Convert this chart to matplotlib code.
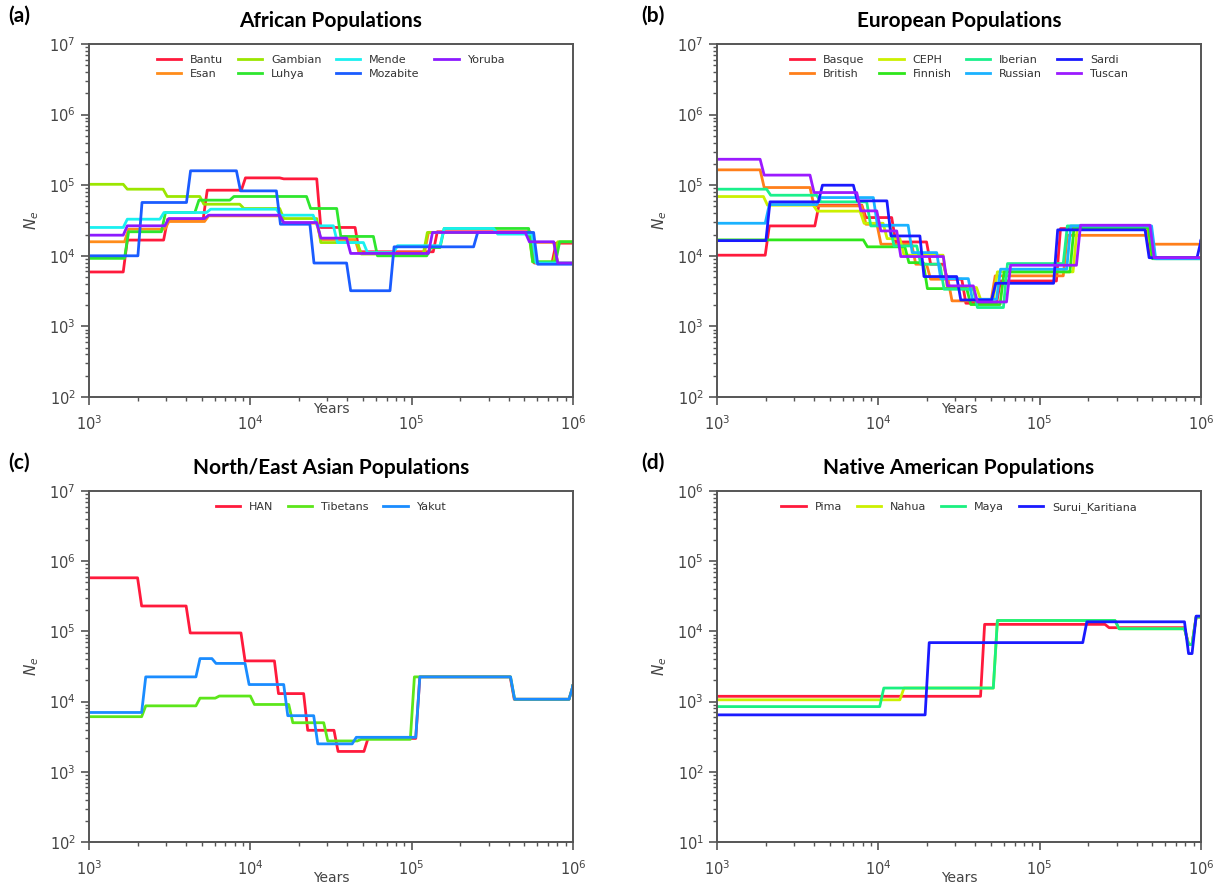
import matplotlib
matplotlib.use("Agg")
import matplotlib.pyplot as plt

# step change points (years) and Ne levels per population
# (a) African
bantu_t = [1630, 2900, 5100, 8800, 15200, 25800, 44600, 136000, 543000, 741000]
bantu_ne = [5900, 16700, 33000, 85000, 127000, 123000, 25200, 11400, 21900, 7900, 15100]
esan_t = [1660, 2950, 5200, 15200, 25800, 44600, 120000, 540000, 760000]
esan_ne = [15800, 23800, 30600, 36800, 29000, 17000, 11000, 21500, 15500, 7900]
gambian_t = [1630, 2880, 4860, 8600, 15200, 25800, 46000, 118000, 531000, 759000]
gambian_ne = [103000, 87800, 69200, 53800, 46800, 33700, 15400, 10600, 21400, 8200, 15800]
mende_t = [1630, 2750, 5350, 14500, 24500, 32700, 50200, 77100, 150000, 322000, 557000]
mende_ne = [25200, 33000, 41000, 45700, 37600, 26600, 15400, 11100, 13900, 24400, 20300, 7900]
luhya_t = [1660, 2810, 4530, 7460, 22300, 34300, 57900, 124000, 150000, 531000, 780000]
luhya_ne = [9200, 21900, 41000, 61400, 69200, 46800, 18800, 10000, 13100, 24400, 8200, 15800]
mozabite_t = [2010, 4020, 8200, 14500, 23400, 39500, 73400, 242000, 570000]
mozabite_ne = [10000, 56900, 160000, 83100, 28000, 7900, 3200, 13400, 21400, 7600]
yoruba_t = [1630, 2950, 5200, 15200, 25800, 39500, 127000, 506000, 759000]
yoruba_ne = [19600, 26600, 33700, 37600, 29600, 17800, 10800, 21400, 15800, 7900]

# (b) European
basque_t = [1990, 4040, 7900, 12100, 19900, 25300, 32900, 54000, 127000, 460000]
basque_ne = [10200, 26500, 52100, 34800, 15700, 7600, 4660, 2130, 4400, 24300, 9400]
british_t = [1850, 3770, 7900, 9800, 16100, 19900, 27000, 50000, 140000, 460000]
british_ne = [165000, 92700, 50900, 28000, 14600, 7600, 4660, 2300, 5200, 19500, 14600]
ceph_t = [1940, 3950, 7700, 10700, 13600, 25200, 40600, 51600, 161000, 470000]
ceph_ne = [69100, 52100, 42900, 28900, 17500, 10200, 3550, 2420, 5920, 24300, 9400]
finnish_t = [8070, 14600, 19000, 35300, 56800, 154000, 472000]
finnish_ne = [16800, 13400, 8000, 3430, 2040, 5920, 25100, 9100]
iberian_t = [2030, 4150, 8470, 11800, 17300, 24100, 38800, 59600, 140000, 483000]
iberian_ne = [87800, 72100, 58100, 26500, 13800, 7600, 3360, 1850, 7760, 26500, 9100]
russian_t = [1990, 4150, 9310, 15300, 23000, 36100, 54000, 147000, 494000]
russian_ne = [28900, 53200, 66800, 27100, 11100, 4750, 2420, 6460, 26500, 9100]
sardi_t = [2010, 4250, 7000, 11300, 18100, 30600, 50400, 122000, 450000, 945000]
sardi_ne = [16400, 58100, 100000, 60000, 19100, 5080, 2370, 4080, 23300, 9400, 16600]
tuscan_t = [1850, 3770, 7350, 9780, 13000, 25300, 38800, 62300, 169000, 483000]
tuscan_ne = [233000, 139000, 78700, 43300, 22500, 9760, 3750, 2220, 7350, 27100, 9400]

# (c) North/East Asian
han_t = [2000, 4000, 8750, 14100, 21400, 33000, 50600, 106000, 408000, 945000]
han_ne = [580000, 230000, 95000, 38000, 13000, 3900, 1950, 2990, 22500, 10800, 17000]
tibetans_t = [2120, 4600, 6060, 10000, 17300, 28500, 46000, 98100, 410000, 945000]
tibetans_ne = [6100, 8700, 11200, 12000, 9100, 5000, 2750, 2900, 22500, 10800, 17000]
yakut_t = [2120, 4600, 5780, 9270, 16100, 24700, 42800, 106000, 410000, 945000]
yakut_ne = [7000, 22500, 41000, 35000, 17500, 6300, 2500, 3100, 22500, 10800, 17000]

# (d) Native American
pima_t = [43000, 254000, 790000, 880000]
pima_ne = [1190, 12600, 11300, 6550, 16000]
nahua_t = [13600, 51600, 293000, 790000, 880000]
nahua_ne = [1060, 1560, 14300, 10900, 6500, 16000]
maya_t = [10200, 51600, 293000, 790000, 880000]
maya_ne = [849, 1560, 14300, 10900, 6500, 16000]
surui_t = [19500, 185000, 790000, 880000]
surui_ne = [647, 6920, 13700, 4830, 16500]

RAMP = 1.06  # width of each slanted transition (multiplicative in time)


def stair(edges, levels, x0=1e3, x1=1e6):
    xs, ys = [x0], [levels[0]]
    for e, a, b in zip(edges, levels[:-1], levels[1:]):
        xs += [e, e * RAMP]
        ys += [a, b]
    xs.append(x1)
    ys.append(levels[-1])
    return xs, ys


panels = [
    ("(a)", "African Populations", (1e2, 1e7), [
        ("Bantu", bantu_t, bantu_ne, "#ff1a3c"),
        ("Esan", esan_t, esan_ne, "#ff8c1a"),
        ("Gambian", gambian_t, gambian_ne, "#9be600"),
        ("Luhya", luhya_t, luhya_ne, "#2ee62e"),
        ("Mende", mende_t, mende_ne, "#1af0f0"),
        ("Mozabite", mozabite_t, mozabite_ne, "#1a5cff"),
        ("Yoruba", yoruba_t, yoruba_ne, "#8c1aff"),
    ]),
    ("(b)", "European Populations", (1e2, 1e7), [
        ("Basque", basque_t, basque_ne, "#ff1a3c"),
        ("British", british_t, british_ne, "#ff7f1a"),
        ("CEPH", ceph_t, ceph_ne, "#ccf000"),
        ("Finnish", finnish_t, finnish_ne, "#2ee61a"),
        ("Iberian", iberian_t, iberian_ne, "#1af08c"),
        ("Russian", russian_t, russian_ne, "#1ab2ff"),
        ("Sardi", sardi_t, sardi_ne, "#1a1aff"),
        ("Tuscan", tuscan_t, tuscan_ne, "#9b1aff"),
    ]),
    ("(c)", "North/East Asian Populations", (1e2, 1e7), [
        ("HAN", han_t, han_ne, "#ff1a3c"),
        ("Tibetans", tibetans_t, tibetans_ne, "#5ce61a"),
        ("Yakut", yakut_t, yakut_ne, "#1a8cff"),
    ]),
    ("(d)", "Native American Populations", (1e1, 1e6), [
        ("Pima", pima_t, pima_ne, "#ff1a3c"),
        ("Nahua", nahua_t, nahua_ne, "#ccf000"),
        ("Maya", maya_t, maya_ne, "#1af080"),
        ("Surui_Karitiana", surui_t, surui_ne, "#1a1aff"),
    ]),
]

W, H = 1216, 886
fig = plt.figure(figsize=(W / 100, H / 100), dpi=100)
boxes = [(89, 44, 573, 397), (717, 44, 1201, 397),
         (89, 491, 573, 842), (717, 491, 1201, 842)]
label_pos = [(8, 16), (641, 16), (8, 463), (641, 463)]
years_y = [402, 402, 871, 871]  # top of the "Years" label, in pixels

for (tag, title, ylim, series), (l, t, r, b), (lx, ly), yy in zip(
        panels, boxes, label_pos, years_y):
    ax = fig.add_axes([l / W, 1 - b / H, (r - l) / W, (b - t) / H])
    for name, edges, levels, col in series:
        xs, ys = stair(edges, levels)
        ax.plot(xs, ys, color=col, lw=2.0, label=name)
    ax.set_xscale("log")
    ax.set_yscale("log")
    ax.set_xlim(1e3, 1e6)
    ax.set_ylim(*ylim)
    ax.tick_params(which="both", colors="#555555", labelcolor="#444444",
                   labelsize=10.5, top=False, right=False)
    ax.tick_params(which="major", length=6, width=1.2)
    ax.tick_params(which="minor", length=3, width=1.0)
    ax.tick_params(axis="x", which="major", pad=6.5)
    for s in ax.spines.values():
        s.set_color("#555555")
        s.set_linewidth(1.4)
    ax.set_xlabel("Years", fontsize=10, color="#444444")
    ax.xaxis.set_label_coords(0.5, -(yy - b) / (b - t))
    ax.set_ylabel(r"$N_e$", fontsize=11, color="#444444", labelpad=6)
    ax.set_title(title, fontsize=15, fontweight="bold", family="Lato", pad=12)
    ax.legend(loc="upper center", ncol=4, frameon=False, fontsize=8,
              handlelength=2.2, handletextpad=0.8, columnspacing=1.3,
              labelspacing=0.35, borderaxespad=0.6, labelcolor="#333333")
    fig.text(lx / W, 1 - ly / H, tag, fontsize=15, fontweight="bold",
             family="Lato", va="center", ha="left")

fig.savefig("out.png", dpi=100)
